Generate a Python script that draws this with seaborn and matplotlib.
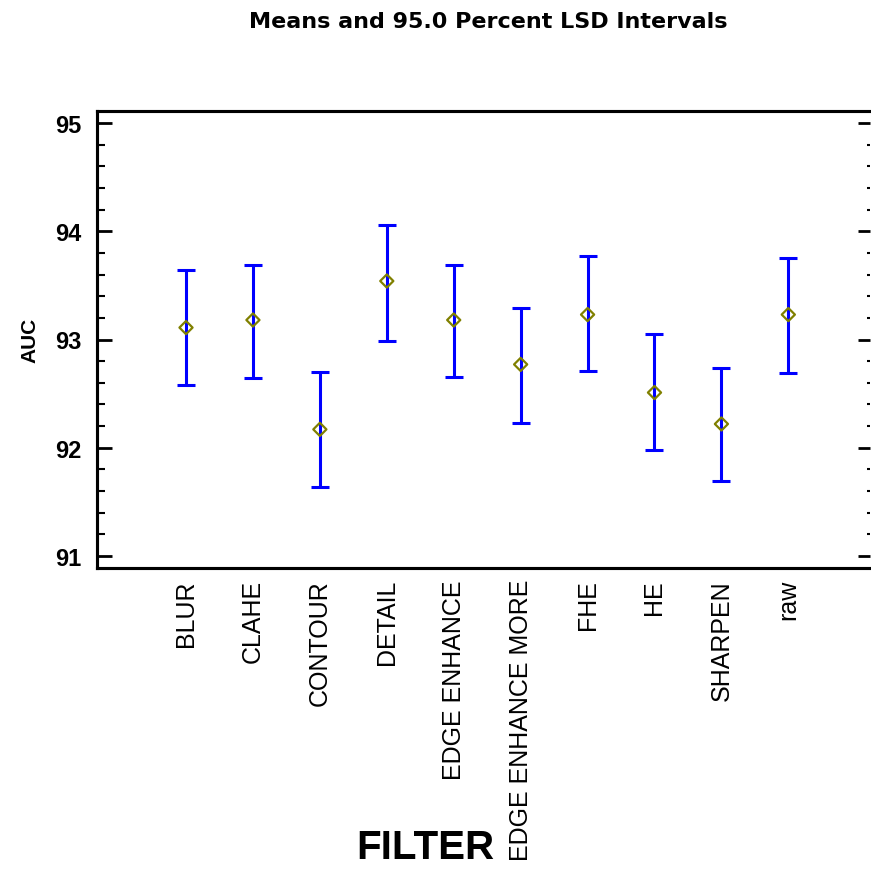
import numpy as np
import pandas as pd
import matplotlib
matplotlib.use("Agg")
import matplotlib.pyplot as plt
import seaborn as sns
from matplotlib.ticker import MultipleLocator

# values
filters = ["BLUR", "CLAHE", "CONTOUR", "DETAIL", "EDGE ENHANCE",
           "EDGE ENHANCE MORE", "FHE", "HE", "SHARPEN", "raw"]
means = [93.11, 93.18, 92.17, 93.54, 93.18, 92.77, 93.23, 92.51, 92.22, 93.23]
lower = [92.58, 92.64, 91.64, 92.99, 92.65, 92.23, 92.71, 91.98, 91.69, 92.69]
upper = [93.64, 93.69, 92.70, 94.06, 93.69, 93.29, 93.77, 93.05, 92.74, 93.75]

df = pd.DataFrame({"FILTER": filters, "AUC": means, "lo": lower, "hi": upper})

sns.set_style("white")
plt.rcParams["font.family"] = ["Liberation Sans", "DejaVu Sans"]
plt.rcParams["text.color"] = "black"
plt.rcParams["xtick.color"] = "black"
plt.rcParams["ytick.color"] = "black"

fig = plt.figure(figsize=(8.71, 8.70), dpi=100)
ax = fig.add_axes([97 / 871, 1 - 569 / 870, (870 - 97) / 871, (569 - 112) / 870])

pos = np.arange(len(filters))
ax.errorbar(pos, df["AUC"], yerr=[df["AUC"] - df["lo"], df["hi"] - df["AUC"]],
            fmt="none", ecolor="#0000ff", elinewidth=2.2, capsize=6.5,
            capthick=2.2, zorder=2)
sns.scatterplot(x=pos, y=df["AUC"], marker="D", s=45, facecolor="none",
                edgecolor="#808000", linewidth=1.6, ax=ax, zorder=3)

ax.set_xlim(-1.33, 10.22)
ax.set_ylim(90.89, 95.11)
ax.set_xticks(pos)
ax.set_xticklabels(filters, rotation=90, fontsize=18, va="top")
ax.tick_params(axis="x", length=0, pad=8)

# dotted minor marks and major ticks on the right side
ax2 = ax.twinx()
ax2.set_ylim(ax.get_ylim())
ax2.yaxis.set_major_locator(MultipleLocator(1))
ax2.yaxis.set_minor_locator(MultipleLocator(0.2))
ax2.tick_params(axis="y", which="major", direction="in", length=9, width=2,
                labelright=False, right=True)
ax2.tick_params(axis="y", which="minor", direction="in", length=2, width=1.5,
                right=True)

ax.yaxis.set_major_locator(MultipleLocator(1))
ax.yaxis.set_minor_locator(MultipleLocator(0.2))
ax.tick_params(axis="y", which="major", direction="in", length=11, width=2,
               left=True, labelsize=17, pad=11)
ax.tick_params(axis="y", which="minor", direction="in", length=6, width=1.5,
               left=True)
for lbl in ax.get_yticklabels():
    lbl.set_fontweight("bold")

for a in (ax, ax2):
    a.spines["right"].set_visible(False)
    for s in ("left", "top", "bottom"):
        a.spines[s].set_linewidth(2.2)
        a.spines[s].set_color("black")

ax.set_xlabel("")
ax.set_ylabel("")
fig.text(30 / 871, 1 - 340 / 870, "AUC", rotation=90, fontsize=15,
         fontweight="bold", ha="center", va="center")
fig.text(488 / 871, 1 - 22 / 870, "Means and 95.0 Percent LSD Intervals",
         fontsize=16, fontweight="bold", family="DejaVu Sans", ha="center",
         va="center")
fig.text(425 / 871, 1 - 848 / 870, "FILTER", fontsize=29, fontweight="bold",
         ha="center", va="center")

fig.savefig("out.png", dpi=100)
